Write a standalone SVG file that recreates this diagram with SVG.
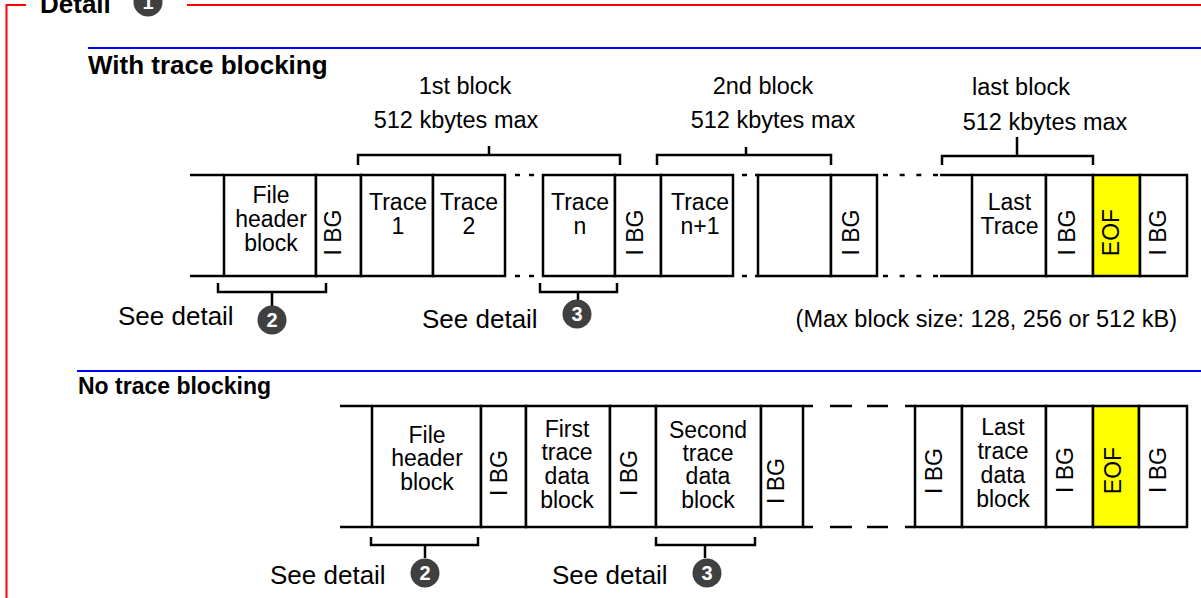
<svg xmlns="http://www.w3.org/2000/svg" width="1201" height="598" viewBox="0 0 1201 598">
<style>
text{font-family:"Liberation Sans",Arial,sans-serif;fill:#000}
.t{font-size:23px;text-anchor:middle}
.lbl{font-size:23.5px;text-anchor:middle}
.sd{font-size:26px}
.h{font-weight:bold}
.box{fill:#fff;stroke:#000;stroke-width:2.5}
.eof{fill:#ffff00;stroke:#000;stroke-width:2.5}
.ln{stroke:#000;stroke-width:2.5;fill:none}
.dash{stroke:#000;stroke-width:2.5;fill:none}
.br{stroke:#000;stroke-width:2.5;fill:none}
.num circle{fill:#404040}
.num text{fill:#fff;font-size:20px;font-weight:bold;text-anchor:middle}
.red{stroke:#ff0000;stroke-width:2;fill:none}
.blue{stroke:#0000ff;stroke-width:2;fill:none}
</style>

<g id="frame">
<path class="red" d="M6.5,598 V5 H26 M187,5 H1201"/>
<text class="h" x="40" y="13" font-size="26">Detail</text>
<g class="num"><circle cx="148" cy="2" r="14.5"/><text x="148" y="9">1</text></g>
</g>

<g id="sections">
<line class="blue" x1="88" y1="48" x2="1201" y2="48"/>
<text class="h" x="88" y="74" font-size="26">With trace blocking</text>
<line class="blue" x1="77" y1="371" x2="1201" y2="371"/>
<text class="h" x="78" y="394" font-size="23">No trace blocking</text>
</g>

<!-- Row 1 labels -->
<g id="block-labels">
<text class="lbl" x="465" y="94">1st block</text>
<text class="lbl" x="456" y="128">512 kbytes max</text>
<text class="lbl" x="763" y="94">2nd block</text>
<text class="lbl" x="773" y="128">512 kbytes max</text>
<text class="lbl" x="1021" y="95">last block</text>
<text class="lbl" x="1045" y="130">512 kbytes max</text>
<text x="1177" y="327" font-size="23.5" text-anchor="end">(Max block size: 128, 256 or 512 kB)</text>
</g>

<!-- Row 1 nodes -->
<g id="r1-header"><rect class="box" x="224" y="175" width="92" height="101"/>
<text class="t" x="271" y="203">File</text><text class="t" x="271" y="227">header</text><text class="t" x="271" y="251">block</text></g>
<g id="r1-ibg1"><rect class="box" x="316" y="175" width="45" height="101"/>
<text class="t" transform="translate(341,232.5) rotate(-90)">I BG</text></g>
<g id="r1-trace1"><rect class="box" x="361" y="175" width="72" height="101"/>
<text class="t" x="398" y="210">Trace</text><text class="t" x="398" y="234">1</text></g>
<g id="r1-trace2"><rect class="box" x="433" y="175" width="72" height="101"/>
<text class="t" x="469" y="210">Trace</text><text class="t" x="469" y="234">2</text></g>
<g id="r1-tracen"><rect class="box" x="543" y="175" width="72" height="101"/>
<text class="t" x="580" y="210">Trace</text><text class="t" x="580" y="234">n</text></g>
<g id="r1-ibg2"><rect class="box" x="615" y="175" width="46" height="101"/>
<text class="t" transform="translate(642.5,232.5) rotate(-90)">I BG</text></g>
<g id="r1-tracen1"><rect class="box" x="661" y="175" width="72" height="101"/>
<text class="t" x="700" y="210">Trace</text><text class="t" x="700" y="234">n+1</text></g>
<g id="r1-blank"><rect class="box" x="758" y="175" width="73" height="101"/></g>
<g id="r1-ibg3"><rect class="box" x="831" y="175" width="46" height="101"/>
<text class="t" transform="translate(859,232.5) rotate(-90)">I BG</text></g>
<g id="r1-last"><rect class="box" x="972" y="175" width="74" height="101"/>
<text class="t" x="1009.5" y="210">Last</text><text class="t" x="1009.5" y="234">Trace</text></g>
<g id="r1-ibg4"><rect class="box" x="1046" y="175" width="47" height="101"/>
<text class="t" transform="translate(1075,232.5) rotate(-90)">I BG</text></g>
<g id="r1-eof"><rect class="eof" x="1093" y="175" width="47" height="101"/>
<text class="t" transform="translate(1119,232.5) rotate(-90)">EOF</text></g>
<g id="r1-ibg5"><rect class="box" x="1140" y="175" width="47" height="101"/>
<text class="t" transform="translate(1166,232.5) rotate(-90)">I BG</text></g>

<!-- Row 2 nodes -->
<g id="r2-header"><rect class="box" x="372" y="406" width="109" height="121"/>
<text class="t" x="427" y="443">File</text><text class="t" x="427" y="466">header</text><text class="t" x="427" y="489.5">block</text></g>
<g id="r2-ibg1"><rect class="box" x="481" y="406" width="45" height="121"/>
<text class="t" transform="translate(507,473) rotate(-90)">I BG</text></g>
<g id="r2-first"><rect class="box" x="526" y="406" width="84" height="121"/>
<text class="t" x="567" y="437">First</text><text class="t" x="567" y="460">trace</text><text class="t" x="567" y="483.5">data</text><text class="t" x="567" y="508">block</text></g>
<g id="r2-ibg2"><rect class="box" x="610" y="406" width="46" height="121"/>
<text class="t" transform="translate(637,473) rotate(-90)">I BG</text></g>
<g id="r2-second"><rect class="box" x="656" y="406" width="105" height="121"/>
<text class="t" x="708" y="438">Second</text><text class="t" x="708" y="461">trace</text><text class="t" x="708" y="484">data</text><text class="t" x="708" y="508">block</text></g>
<g id="r2-ibg3"><rect class="box" x="761" y="406" width="42" height="121"/>
<text class="t" transform="translate(784,481) rotate(-90)">I BG</text></g>
<g id="r2-ibg4"><rect class="box" x="915" y="406" width="47" height="121"/>
<text class="t" transform="translate(942,471) rotate(-90)">I BG</text></g>
<g id="r2-last"><rect class="box" x="962" y="406" width="84" height="121"/>
<text class="t" x="1003" y="435">Last</text><text class="t" x="1003" y="459">trace</text><text class="t" x="1003" y="483">data</text><text class="t" x="1003" y="507">block</text></g>
<g id="r2-ibg5"><rect class="box" x="1046" y="406" width="47" height="121"/>
<text class="t" transform="translate(1073,470) rotate(-90)">I BG</text></g>
<g id="r2-eof"><rect class="eof" x="1093" y="406" width="46" height="121"/>
<text class="t" transform="translate(1121,470.5) rotate(-90)">EOF</text></g>
<g id="r2-ibg6"><rect class="box" x="1139" y="406" width="48" height="121"/>
<text class="t" transform="translate(1166,470) rotate(-90)">I BG</text></g>

<!-- Connectors: lead lines, gaps, brackets -->
<g id="connectors">
<path class="ln" d="M190,175 H224 M190,276 H224 M940,175 H972 M940,276 H972 M340,406 H372 M340,527 H372"/>
<path class="dash" stroke-dasharray="5 9" d="M515,175 H543 M515,276 H543"/>
<path class="dash" stroke-dasharray="5 8" d="M742,175 H758 M742,276 H758"/>
<path class="dash" stroke-dasharray="5 11.67" d="M883,175 H938 M883,276 H938"/>
<path class="ln" d="M803,406 H813 M830,406 H852 M867,406 H888 M905,406 H915 M803,527 H813 M830,527 H852 M867,527 H888 M905,527 H915"/>
<!-- top brackets -->
<path class="br" d="M358,165 V155 H620 V165 M489,146 V155"/>
<path class="br" d="M657,165 V155 H831 V165 M746,147 V155"/>
<path class="br" d="M942,165 V156 H1093 V165 M1017,137 V156"/>
<!-- bottom brackets row 1 -->
<path class="br" d="M218,283 V292 H326 V283 M272,292 V306"/>
<path class="br" d="M540,283 V292 H617 V283 M578,292 V300"/>
<!-- bottom brackets row 2 -->
<path class="br" d="M371,537 V545 H478 V537 M425,545 V558"/>
<path class="br" d="M656,537 V545 H755 V537 M705,545 V558"/>
</g>

<g id="see-detail">
<text class="sd" x="118" y="325">See detail</text>
<g class="num"><circle cx="272" cy="320" r="14.5"/><text x="272" y="327">2</text></g>
<text class="sd" x="422" y="328">See detail</text>
<g class="num"><circle cx="577" cy="314" r="14.5"/><text x="577" y="321">3</text></g>
<text class="sd" x="270" y="584">See detail</text>
<g class="num"><circle cx="425" cy="573" r="14.5"/><text x="425" y="580">2</text></g>
<text class="sd" x="552" y="584">See detail</text>
<g class="num"><circle cx="707" cy="573" r="14.5"/><text x="707" y="580">3</text></g>
</g>
</svg>
